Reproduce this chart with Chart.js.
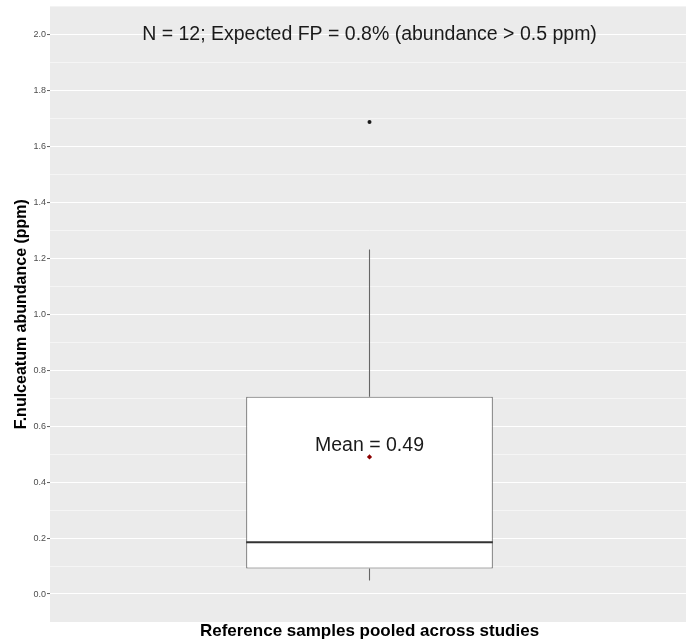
<!DOCTYPE html>
<html>
<head>
<meta charset="utf-8">
<title>F.nulceatum abundance</title>
<script src="https://cdn.jsdelivr.net/npm/chart.js@4/dist/chart.umd.min.js"></script>
<style>
    html, body { margin: 0; padding: 0; background: #ffffff; overflow: hidden; }
    /* the original plot is cut off a few pixels past the right edge */
    #crop { width: 686px; height: 642px; overflow: hidden; }
    #wrap { width: 693px; height: 642px; }
    #boxChart { width: 693px; height: 642px; display: block; }
</style>
</head>
<body>
<div id="crop"><div id="wrap"><canvas id="boxChart" width="693" height="642"></canvas></div></div>
<script>
// ==================== DATA ====================

const categories = ['Reference samples'];
const whiskerLow = [0.048];
const q1 = [0.091];
const median = [0.185];
const q3 = [0.705];
const whiskerHigh = [1.231];
const outliers = [1.687];
const means = [0.49];
const meanLabels = ['Mean = 0.49'];
const meanLabelY = [0.53];
const annotation = 'N = 12; Expected FP = 0.8% (abundance > 0.5 ppm)';
const annotationY = 2.0;
const majorTicks = [0.0, 0.2, 0.4, 0.6, 0.8, 1.0, 1.2, 1.4, 1.6, 1.8, 2.0];
const minorTicks = [0.1, 0.3, 0.5, 0.7, 0.9, 1.1, 1.3, 1.5, 1.7, 1.9];

const FONT = '"Liberation Sans", Arial, Helvetica, sans-serif';

function isMajor(v) {
    return majorTicks.some(t => Math.abs(t - v) < 1e-6);
}

// panel background (ggplot grey)
const panelBackground = {
    id: 'panelBackground',
    beforeDraw(chart) {
        const { ctx, chartArea } = chart;
        ctx.save();
        ctx.fillStyle = '#ebebeb';
        ctx.fillRect(chartArea.left, chartArea.top, chartArea.right - chartArea.left, chartArea.bottom - chartArea.top);
        ctx.restore();
    }
};

// whiskers + median line, placed through the scales
const boxParts = {
    id: 'boxParts',
    beforeDatasetsDraw(chart) {
        const { ctx, scales } = chart;
        const y = scales.y;
        const bar = chart.getDatasetMeta(0).data;
        ctx.save();
        ctx.strokeStyle = '#666666';
        ctx.lineWidth = 1.1;
        bar.forEach((el, i) => {
            ctx.beginPath();
            ctx.moveTo(el.x, y.getPixelForValue(q3[i]));
            ctx.lineTo(el.x, y.getPixelForValue(whiskerHigh[i]));
            ctx.moveTo(el.x, y.getPixelForValue(q1[i]));
            ctx.lineTo(el.x, y.getPixelForValue(whiskerLow[i]));
            ctx.stroke();
        });
        ctx.restore();
    },
    afterDatasetsDraw(chart) {
        const { ctx, scales } = chart;
        const y = scales.y;
        const bar = chart.getDatasetMeta(0).data;
        ctx.save();
        ctx.strokeStyle = '#333333';
        ctx.lineWidth = 2;
        bar.forEach((el, i) => {
            const py = y.getPixelForValue(median[i]);
            ctx.beginPath();
            ctx.moveTo(el.x - el.width / 2, py);
            ctx.lineTo(el.x + el.width / 2, py);
            ctx.stroke();
        });
        // text labels
        ctx.fillStyle = '#1a1a1a';
        ctx.font = '19.5px ' + FONT;
        ctx.textAlign = 'center';
        ctx.textBaseline = 'middle';
        bar.forEach((el, i) => {
            ctx.fillText(meanLabels[i], el.x, y.getPixelForValue(meanLabelY[i]));
        });
        ctx.fillText(annotation, scales.x.getPixelForValue(0), y.getPixelForValue(annotationY));
        ctx.restore();
    }
};

const ctx = document.getElementById('boxChart').getContext('2d');

new Chart(ctx, {
    type: 'bar',
    data: {
        labels: categories,
        datasets: [
            {
                label: 'IQR',
                data: q1.map((v, i) => [v, q3[i]]),
                backgroundColor: '#ffffff',
                borderColor: '#666666',
                borderWidth: 1.1,
                borderSkipped: false,
                barPercentage: 0.386,
                categoryPercentage: 1,
                order: 2
            },
            {
                type: 'line',
                label: 'Outliers',
                data: outliers,
                showLine: false,
                pointRadius: 2,
                pointBackgroundColor: '#1a1a1a',
                pointBorderWidth: 0,
                order: 1
            },
            {
                type: 'line',
                label: 'Mean',
                data: means,
                showLine: false,
                pointStyle: 'rectRot',
                pointRadius: 2.6,
                pointBackgroundColor: '#8b0000',
                pointBorderWidth: 0,
                order: 0
            }
        ]
    },
    options: {
        responsive: false,
        animation: false,
        layout: { padding: { left: 0, right: 0, top: 5, bottom: 0 } },
        plugins: {
            legend: { display: false },
            tooltip: { enabled: false }
        },
        scales: {
            x: {
                grid: { display: false },
                border: { display: false },
                ticks: { display: false },
                title: {
                    display: true,
                    text: 'Reference samples pooled across studies',
                    color: '#000000',
                    font: { family: FONT, size: 17, weight: 'bold' },
                    padding: { top: 0, bottom: 0 }
                },
                afterFit: scale => { scale.height = 20; }
            },
            y: {
                min: -0.1,
                max: 2.1,
                afterBuildTicks: scale => {
                    scale.ticks = majorTicks.concat(minorTicks)
                        .sort((a, b) => a - b)
                        .map(v => ({ value: v }));
                },
                ticks: {
                    color: '#4d4d4d',
                    font: { family: FONT, size: 9 },
                    padding: 1,
                    callback: value => isMajor(value) ? value.toFixed(1) : ''
                },
                grid: {
                    color: '#ffffff',
                    lineWidth: c => isMajor(c.tick.value) ? 1.1 : 0.5,
                    tickColor: c => isMajor(c.tick.value) ? '#333333' : 'rgba(0,0,0,0)',
                    tickLength: 3,
                    tickWidth: 0.8
                },
                border: { display: false },
                title: {
                    display: true,
                    text: 'F.nulceatum abundance (ppm)',
                    color: '#000000',
                    font: { family: FONT, size: 16, weight: 'bold' },
                    padding: { top: 12, bottom: 0 }
                },
                afterFit: scale => { scale.width = 50; }
            }
        }
    },
    plugins: [panelBackground, boxParts]
});
</script>
</body>
</html>
